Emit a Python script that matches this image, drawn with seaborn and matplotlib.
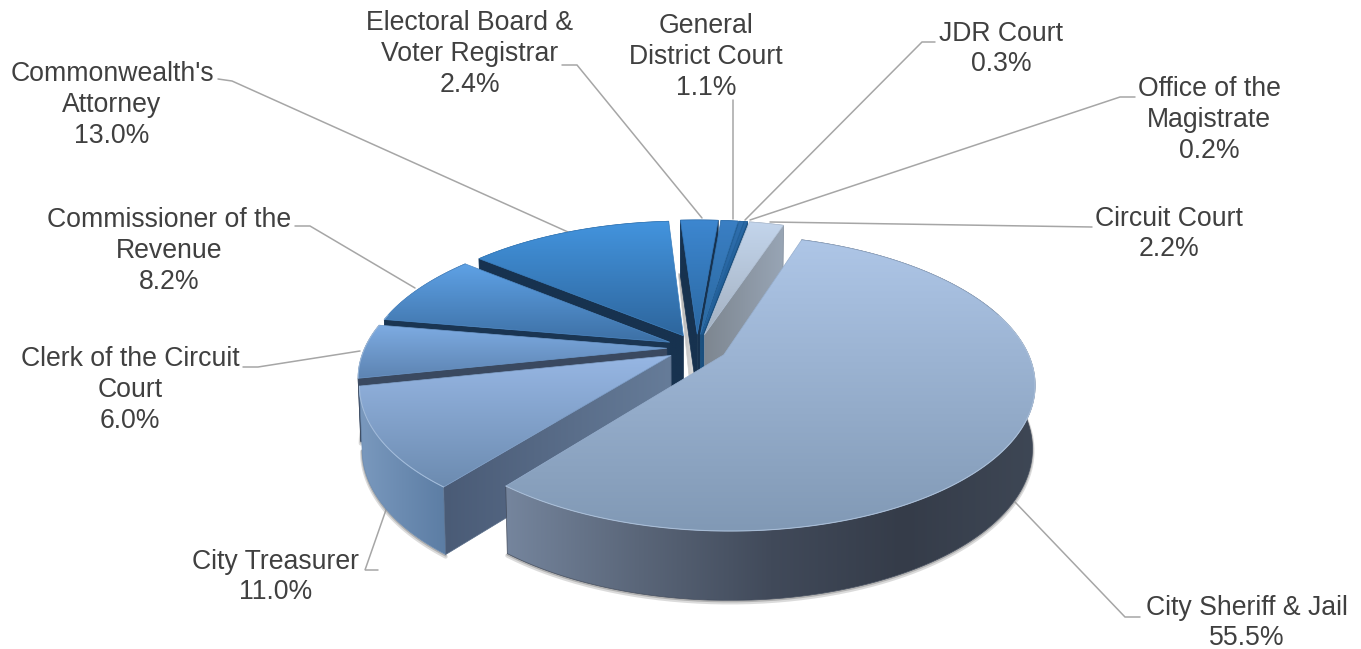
import numpy as np
import matplotlib
matplotlib.use("Agg")
import matplotlib.pyplot as plt
from matplotlib.patches import Polygon
import seaborn as sns

# Budget shares by department
departments = ["City Sheriff & Jail", "City Treasurer", "Clerk of the Circuit\nCourt",
               "Commissioner of the\nRevenue", "Commonwealth's\nAttorney",
               "Electoral Board &\nVoter Registrar", "General\nDistrict Court",
               "JDR Court", "Office of the\nMagistrate", "Circuit Court"]
shares = [55.5, 11.0, 6.0, 8.2, 13.0, 2.4, 1.1, 0.3, 0.2, 2.2]

# Face shading per slice: top face (light to dark), outer rim stops, cut wall stops
top_shades = [("#aec6e7", "#8199b5"), ("#97b7e4", "#6c8bb0"), ("#7eacE3", "#5d84b2"),
              ("#5fa2e6", "#3d70a5"), ("#4394de", "#2e669d"), ("#3d87d0", "#2b68a2"),
              ("#3a7fc4", "#2a689f"), ("#2f6fae", "#1f5c94"), ("#2a69a6", "#1d5a90"),
              ("#c3d5ec", "#a3b0c0")]
rim_shades = [("#75859d", "#5a6679", "#414a5a", "#353c49", "#3e4755"),
              ("#7a99be", "#5c7da4"), ("#6d7a8e", "#5c6a7e"), ("#4a7aae", "#3c6a9c"),
              ("#3a72aa", "#2f6496"), ("#2f6ba6", "#2a6298"), ("#2f6ba6", "#2a6298"),
              ("#2a6298", "#2a6298"), ("#2a6298", "#2a6298"), ("#a0acbc", "#97a4b4")]
wall_shades = ["#4a5a72", ("#4a5b76", "#667c99"), "#3a4960", "#1a3552", "#17324f",
               "#17324f", "#1f5686", "#1b4f7e", "#1b4f7e", ("#7d8690", "#98a5b5")]
draw_order = [4, 3, 2, 5, 6, 7, 8, 9, 1, 0]

# Labels and their leader lines, in canvas pixels
label_xy = [(1247, 623), (276, 577), (130, 390), (169, 251), (112, 105),
            (470, 54), (706, 57), (1001, 49), (1209, 120), (1169, 234)]
leaders = [[(1140, 617), (1125, 617), (1015, 502)],
           [(378, 570), (365, 570), (387, 507)],
           [(243, 367), (258, 367), (360, 351)],
           [(295, 226), (310, 226), (415, 288)],
           [(218, 79), (232, 81), (568, 232)],
           [(562, 65), (577, 65), (702, 218)],
           [(733, 100), (733, 219)],
           [(935, 42), (922, 42), (745, 220)],
           [(1135, 97), (1120, 97), (750, 220)],
           [(1092, 227), (770, 222)]]

# Perspective disc: centre, half-axes, foreshortening, slice pull-out
CX, CY, AX, BY, KP, PULL = 697.0, 348.0, 302.0, 140.4, 0.1875, 0.1
START_DEG = 18.5

sns.set_theme(style="white")
plt.rcParams["font.family"] = ["Liberation Sans", "DejaVu Sans"]


def project(u, v, lower=False):
    d = 1 + KP * v
    x = CX + AX * u / d
    y = CY - BY * v / d
    if lower:
        x = CX + (x - CX) * 0.992
        y = y + 32 + 30 / d
    return x, y


def gradient(ax, pts, stops, vertical):
    pts = np.asarray(pts)
    x0, y0 = pts.min(axis=0)
    x1, y1 = pts.max(axis=0)
    cmap = sns.blend_palette(list(stops), as_cmap=True)
    ramp = np.linspace(0, 1, 256)
    img = ramp[:, None] if vertical else ramp[None, :]
    im = ax.imshow(img, cmap=cmap, extent=(x0, x1 + 0.01, y1 + 0.01, y0), origin="upper",
                   aspect="auto", interpolation="bilinear", vmin=0, vmax=1, zorder=2)
    im.set_clip_path(Polygon(pts, closed=True, transform=ax.transData))
    # soft edge so the clipped image does not look jagged
    mean = sns.blend_palette(list(stops), n_colors=3)[1]
    ax.add_patch(Polygon(pts, closed=True, fill=False, edgecolor=mean, lw=0.5, zorder=2))


def wall_faces_viewer(apex, corner, inner):
    # A cut wall shows when pushing its edge downward leaves the top face
    ex, ey = corner[0] - apex[0], corner[1] - apex[1]
    side_inner = ex * (inner[1] - apex[1]) - ey * (inner[0] - apex[0])
    side_down = ex * 1.0
    return side_inner * side_down < 0


fig = plt.figure(figsize=(13.61, 6.49), dpi=100)
ax = fig.add_axes([0, 0, 1, 1])
ax.set_autoscale_on(False)

total = sum(shares)
sweeps = [360.0 * s / total for s in shares]
starts = START_DEG + np.concatenate(([0.0], np.cumsum(sweeps)[:-1]))

for i in draw_order:
    t0, t1 = starts[i], starts[i] + sweeps[i]
    mid = np.radians((t0 + t1) / 2)
    ou, ov = PULL * np.sin(mid), PULL * np.cos(mid)
    th = np.radians(np.linspace(t0, t1, max(12, int(sweeps[i] * 2))))
    us, vs = ou + np.sin(th), ov + np.cos(th)
    rim_top = [project(a, b) for a, b in zip(us, vs)]
    rim_low = [project(a, b, True) for a, b in zip(us, vs)]
    apex_top, apex_low = project(ou, ov), project(ou, ov, True)

    # contact shadow below the front part of the rim
    front = vs < 0.25
    if front.any():
        low = np.array(rim_low)[front]
        ax.plot(low[:, 0], low[:, 1] + 2, color="#9a9a9a", lw=3.0, alpha=0.35, zorder=2,
                solid_capstyle="round")
        ax.plot(low[:, 0], low[:, 1] + 1, color="#8a8a8a", lw=1.5, alpha=0.5, zorder=2)

    # outer rim
    gradient(ax, rim_top + rim_low[::-1], rim_shades[i], False)

    # radial cut walls, only the ones turned toward the viewer
    wall = wall_shades[i]
    wall = (wall, wall) if isinstance(wall, str) else wall
    if wall_faces_viewer(apex_top, rim_top[0], rim_top[1]):
        gradient(ax, [rim_top[0], apex_top, apex_low, rim_low[0]], wall, False)
    if wall_faces_viewer(apex_top, rim_top[-1], rim_top[-2]):
        gradient(ax, [rim_top[-1], apex_top, apex_low, rim_low[-1]], wall, False)

    # bright sliver running down the gap beside this slice
    if i == 4:
        px, py = apex_top
        gradient(ax, [(px - 5, py - 62), (px - 1, py - 62), (px + 16, py + 63), (px + 8, py + 63)],
                 ("#aaaaaa", "#f2f2f2"), False)

    # top face with a thin bevel highlight along the front of the rim
    gradient(ax, [apex_top] + rim_top, top_shades[i], True)
    rt = np.array(rim_top)
    if front.any():
        ax.plot(rt[front, 0], rt[front, 1], color="#c5d8ee", lw=0.8, alpha=0.5, zorder=2)

for pts in leaders:
    p = np.array(pts)
    ax.plot(p[:, 0], p[:, 1], color="#a6a6a6", lw=1.1, zorder=1, solid_joinstyle="miter")

for name, share, (x, y) in zip(departments, shares, label_xy):
    ax.text(x, y, f"{name}\n{share:.1f}%", ha="center", va="center", ma="center",
            fontsize=19.2, color="#404040", linespacing=1.24, zorder=3)

ax.set_xlim(0, 1361)
ax.set_ylim(649, 0)
ax.axis("off")
fig.savefig("out.png", dpi=100, facecolor="white")
